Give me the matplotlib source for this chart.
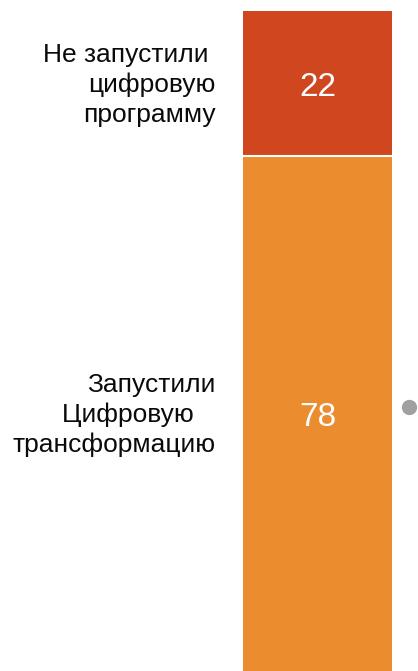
import matplotlib
matplotlib.use('Agg')
import matplotlib.pyplot as plt

plt.rcParams.update({
    'font.family': ['Liberation Sans', 'DejaVu Sans'],
})

# Stacked shares, bottom segment first
categories = ['Запустили\nЦифровую   \nтрансформацию', 'Не запустили \nцифровую\nпрограмму']
values = [78, 22]
colors = ['#EB8C2F', '#CF461F']
marker_value = 40

W, H = 418, 671
fig = plt.figure(figsize=(W / 100, H / 100), dpi=100)
# axes spans exactly the bar column
ax = fig.add_axes([243 / W, 0, (392 - 243) / W, (H - 11) / H])
ax.set_xlim(-0.5, 0.5)
ax.set_ylim(0, sum(values))
ax.axis('off')

bottom = 0
for label, val, col in zip(categories, values, colors):
    ax.bar(0, val, width=1, bottom=bottom, color=col, linewidth=0)
    mid = bottom + val / 2
    ax.annotate(str(val), xy=(0, mid), xytext=(0, -2.6), textcoords='offset points',
                ha='center', va='center', color='white', fontsize=24)
    # category label to the left of the bar
    ax.annotate(label, xy=(-0.5, mid), xytext=(-19.5, -1), textcoords='offset points',
                ha='right', va='center', fontsize=19, color='#0A0A0A',
                linespacing=1.3, annotation_clip=False)
    bottom += val
    if bottom < sum(values):
        # thin white gap between segments
        ax.axhline(bottom, color='white', lw=1.5)

# grey marker right of the bar
ax.plot(0.614, marker_value, 'o', color='#A0A0A0', markersize=10, clip_on=False)

fig.savefig('out.png', dpi=100)
plt.close()
